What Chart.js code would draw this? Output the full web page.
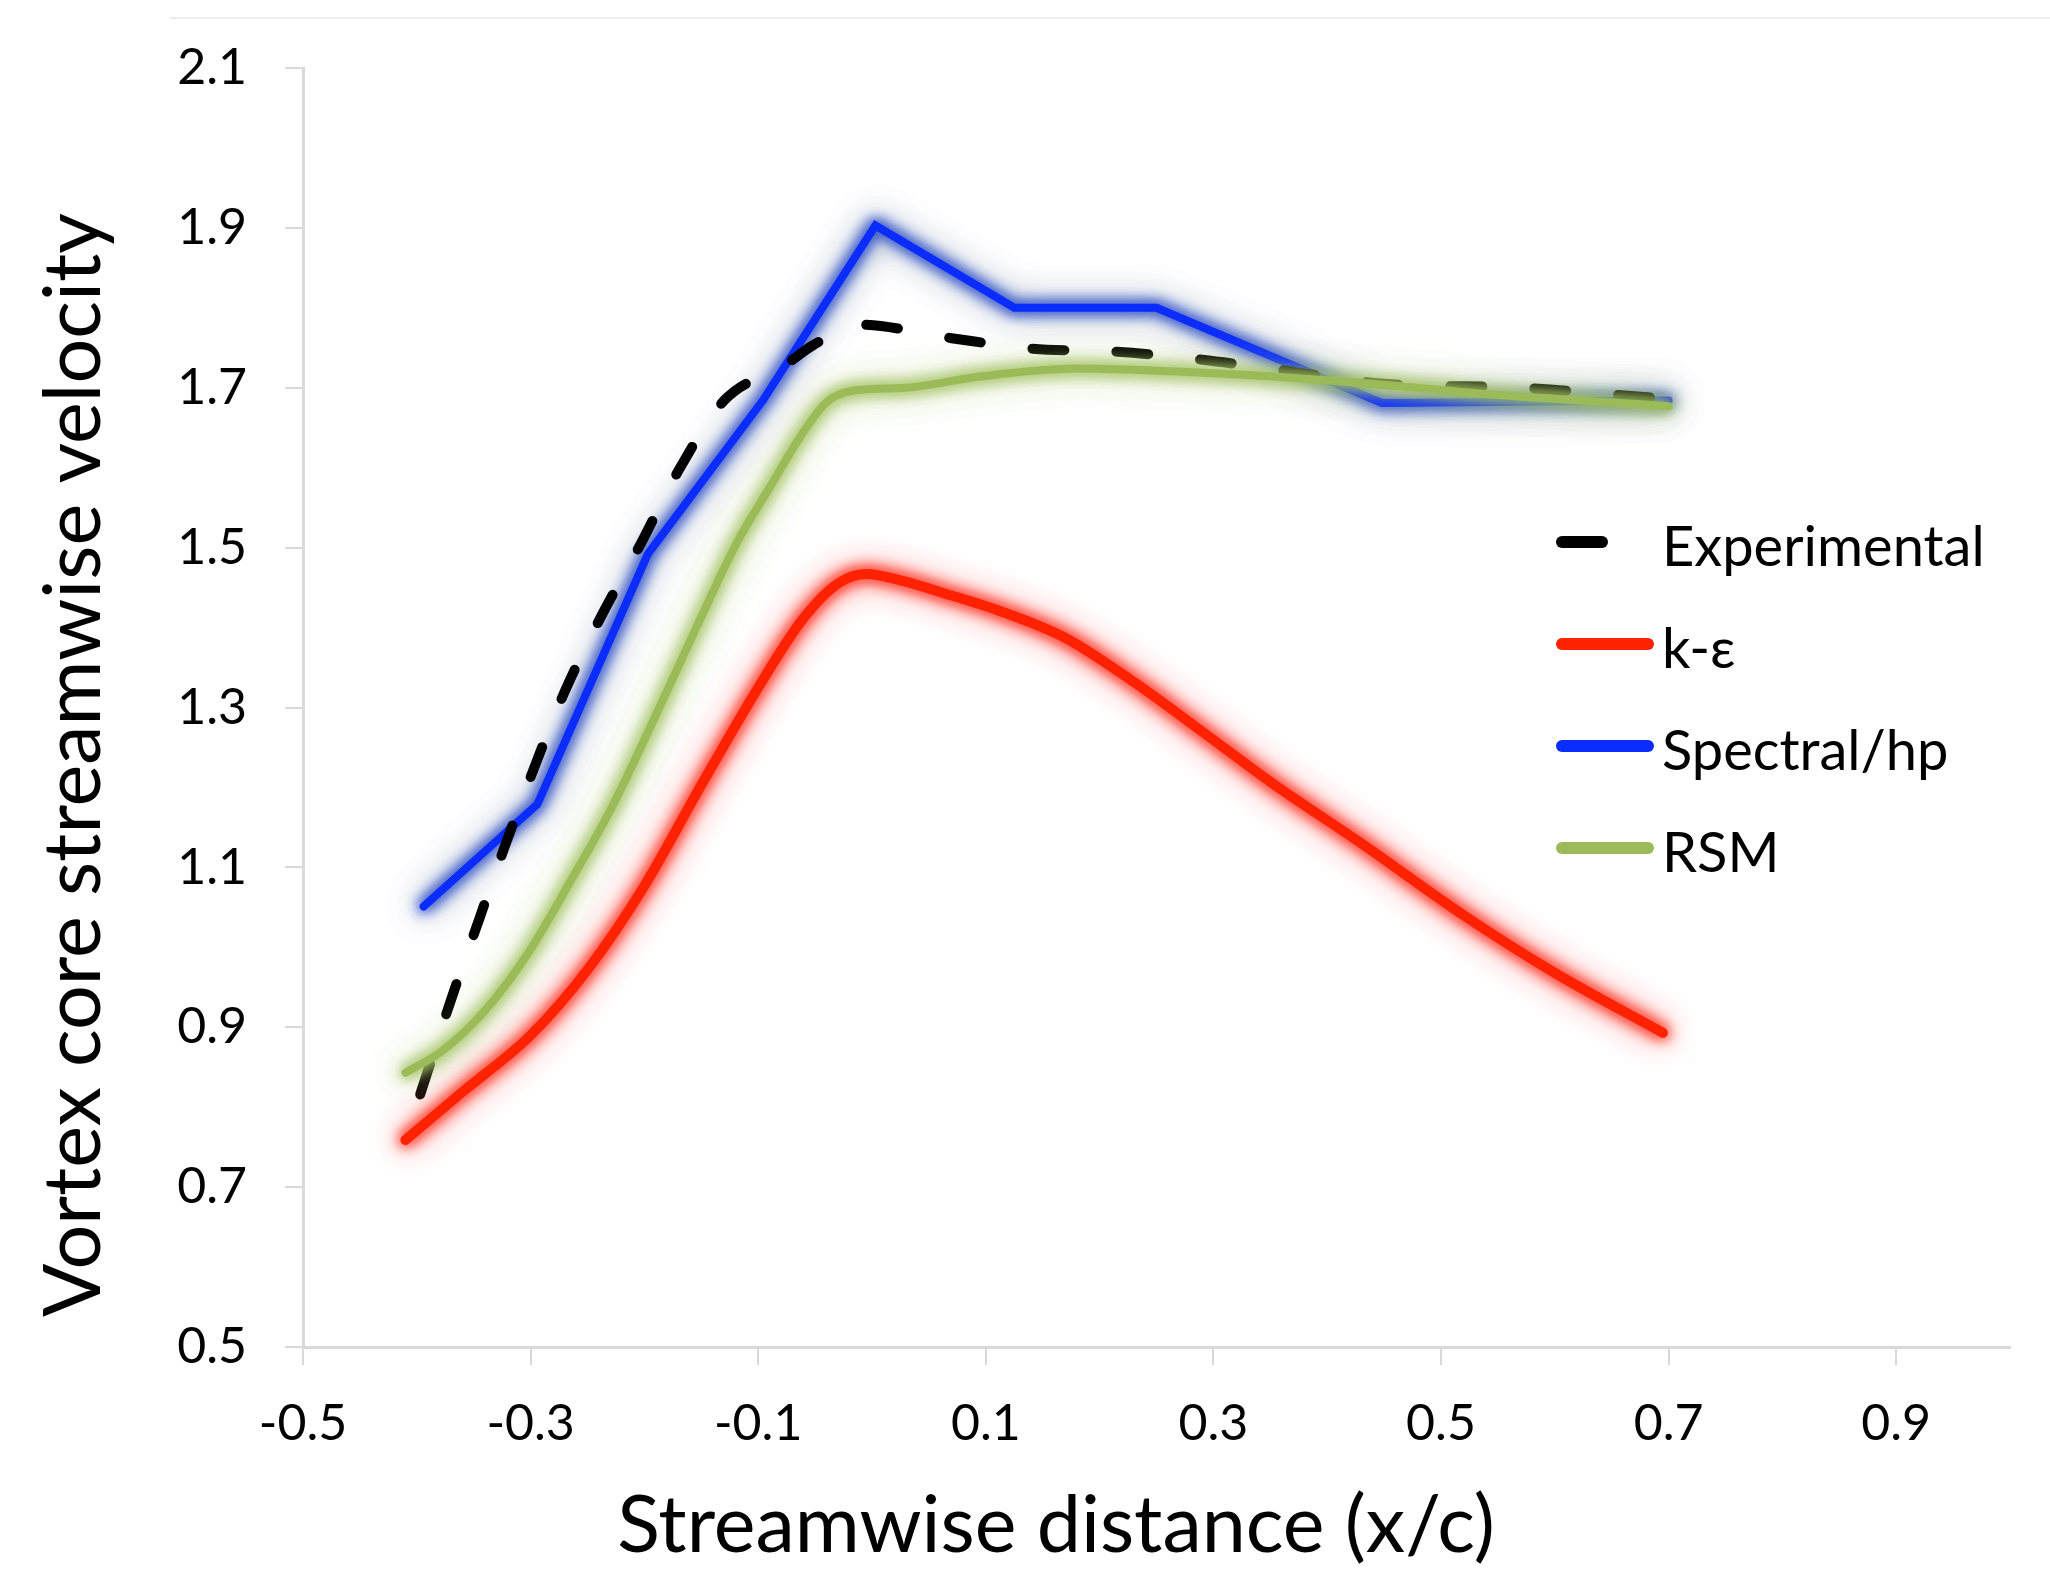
<!DOCTYPE html>
<html>
<head>
<meta charset="utf-8">
<script src="https://cdn.jsdelivr.net/npm/chart.js@4.4.1/dist/chart.umd.min.js"></script>
<style>
  html, body { margin: 0; padding: 0; background: #fff; }
  canvas { display: block; }
</style>
</head>
<body>
<canvas id="chart" width="2050" height="1569"></canvas>
<script>
const xTickValues = [-0.5, -0.3, -0.1, 0.1, 0.3, 0.5, 0.7, 0.9];
const yTickValues = [0.5, 0.7, 0.9, 1.1, 1.3, 1.5, 1.7, 1.9, 2.1];

const seriesNames = ['Experimental', 'k-ε', 'Spectral/hp', 'RSM'];

// Experimental (dashed black)
const expX = [-0.397, -0.37, -0.345, -0.323, -0.297, -0.27, -0.238, -0.205, -0.169, -0.13, -0.076, -0.052, -0.012, 0.07, 0.14, 0.215, 0.29, 0.36, 0.45, 0.57, 0.69];
const expY = [0.816, 0.934, 1.036, 1.125, 1.224, 1.320, 1.414, 1.50, 1.599, 1.684, 1.729, 1.753, 1.779, 1.762, 1.749, 1.745, 1.735, 1.722, 1.705, 1.70, 1.687];

// k-epsilon (red)
const keX = [-0.41, -0.36, -0.30, -0.25, -0.2, -0.15, -0.1, -0.06, -0.03, -0.005, 0.025, 0.07, 0.11, 0.17, 0.23, 0.29, 0.35, 0.43, 0.52, 0.6, 0.695];
const keY = [0.759, 0.819, 0.89, 0.972, 1.077, 1.203, 1.325, 1.412, 1.455, 1.467, 1.459, 1.44, 1.422, 1.387, 1.332, 1.27, 1.207, 1.13, 1.04, 0.968, 0.893];

// Spectral/hp (blue)
const spX = [-0.394, -0.294, -0.197, -0.096, 0.003, 0.125, 0.25, 0.448, 0.70];
const spY = [1.051, 1.179, 1.492, 1.684, 1.903, 1.80, 1.80, 1.681, 1.684];

// RSM (green)
const rsmX = [-0.41, -0.377, -0.34, -0.303, -0.266, -0.229, -0.192, -0.155, -0.118, -0.09, -0.062, -0.04, -0.018, 0.03, 0.095, 0.18, 0.24, 0.33, 0.43, 0.55, 0.70];
const rsmY = [0.843, 0.871, 0.921, 0.991, 1.080, 1.174, 1.284, 1.398, 1.508, 1.575, 1.641, 1.682, 1.696, 1.70, 1.714, 1.724, 1.722, 1.716, 1.706, 1.691, 1.677];

const pts = (xs, ys) => xs.map((x, i) => ({ x: x, y: ys[i] }));

const axisGrey = '#d9d9d9';
const fontName = 'Lato, "Open Sans", sans-serif';

const decor = {
  id: 'decor',
  beforeDraw(chart) {
    const ctx = chart.ctx;
    ctx.save();
    ctx.strokeStyle = '#ececec';
    ctx.lineWidth = 2;
    ctx.beginPath();
    ctx.moveTo(170, 18);
    ctx.lineTo(chart.width, 18);
    ctx.stroke();
    ctx.restore();
  },
  beforeDatasetDraw(chart, args) {
    const ds = chart.data.datasets[args.index];
    const ctx = chart.ctx;
    // soft halo under the coloured lines
    if (ds.glow) {
      ctx.save();
      ctx.shadowColor = ds.glow;
      ctx.shadowBlur = 30;
      ctx.filter = 'blur(7px)';
      ctx.globalAlpha = 0.7;
      args.meta.dataset.draw(ctx, chart.chartArea);
      args.meta.dataset.draw(ctx, chart.chartArea);
      ctx.restore();
    }
    ctx.save();
    if (ds.glow) {
      ctx.shadowColor = ds.glow;
      ctx.shadowBlur = 14;
    }
  },
  afterDatasetDraw(chart) {
    chart.ctx.restore();
  },
  afterDraw(chart) {
    const ctx = chart.ctx;
    ctx.save();
    ctx.fillStyle = '#000';

    // axis titles
    ctx.font = '79px ' + fontName;
    ctx.textAlign = 'center';
    ctx.textBaseline = 'alphabetic';
    ctx.fillText('Streamwise distance (x/c)', 1056, 1552);
    ctx.save();
    ctx.translate(100, 765);
    ctx.rotate(-Math.PI / 2);
    ctx.fillText('Vortex core streamwise velocity', 0, 0);
    ctx.restore();

    // legend
    ctx.font = '56px ' + fontName;
    ctx.textAlign = 'left';
    chart.data.datasets.forEach((ds, i) => {
      const y = 542 + i * 102;
      ctx.strokeStyle = ds.borderColor;
      ctx.lineWidth = 12;
      ctx.lineCap = 'round';
      ctx.setLineDash(ds.borderDash ? [40, 200] : []);
      ctx.beginPath();
      ctx.moveTo(1562, y);
      ctx.lineTo(1648, y);
      ctx.stroke();
      ctx.fillText(ds.label, 1662, y + 24);
    });
    ctx.restore();
  }
};

new Chart(document.getElementById('chart'), {
  type: 'line',
  data: {
    datasets: [
      {
        label: seriesNames[0],
        data: pts(expX, expY),
        borderColor: '#000000',
        borderWidth: 10,
        borderDash: [32, 52],
        borderCapStyle: 'round',
        borderJoinStyle: 'round',
        cubicInterpolationMode: 'monotone',
        order: 2
      },
      {
        label: seriesNames[1],
        data: pts(keX, keY),
        borderColor: '#ff2200',
        glow: 'rgba(255, 90, 90, 0.95)',
        borderWidth: 10,
        borderCapStyle: 'round',
        borderJoinStyle: 'round',
        cubicInterpolationMode: 'monotone',
        order: 1
      },
      {
        label: seriesNames[2],
        data: pts(spX, spY),
        borderColor: '#0a2cff',
        glow: 'rgba(70, 100, 150, 0.95)',
        borderWidth: 8,
        borderCapStyle: 'round',
        borderJoinStyle: 'miter',
        tension: 0,
        order: 3
      },
      {
        label: seriesNames[3],
        data: pts(rsmX, rsmY),
        borderColor: '#9bbb59',
        glow: 'rgba(170, 200, 110, 0.95)',
        borderWidth: 8,
        borderCapStyle: 'round',
        borderJoinStyle: 'round',
        cubicInterpolationMode: 'monotone',
        order: 0
      }
    ]
  },
  options: {
    responsive: false,
    animation: false,
    devicePixelRatio: 1,
    events: [],
    elements: { point: { radius: 0 } },
    layout: { padding: { top: 57, right: 40, left: 0, bottom: 0 } },
    plugins: {
      legend: { display: false },
      tooltip: { enabled: false }
    },
    scales: {
      x: {
        type: 'linear',
        min: -0.5,
        max: 1.0,
        afterBuildTicks: (s) => { s.ticks = xTickValues.map(v => ({ value: v })); },
        afterFit: (s) => { s.height = 222; },
        grid: { drawOnChartArea: false, drawTicks: true, tickLength: 18, color: axisGrey, lineWidth: 2 },
        border: { display: true, color: axisGrey, width: 3 },
        ticks: {
          padding: 29,
          maxRotation: 0,
          autoSkip: false,
          color: '#000',
          font: { family: fontName, size: 50 },
          callback: (v) => v.toFixed(1)
        }
      },
      y: {
        min: 0.5,
        max: 2.1,
        afterBuildTicks: (s) => { s.ticks = yTickValues.map(v => ({ value: v })); },
        afterFit: (s) => { s.width = 303; },
        grid: { drawOnChartArea: false, drawTicks: true, tickLength: 18, color: axisGrey, lineWidth: 2 },
        border: { display: true, color: axisGrey, width: 3 },
        ticks: {
          padding: 38,
          autoSkip: false,
          color: '#000',
          font: { family: fontName, size: 50 },
          callback: (v) => v.toFixed(1)
        }
      }
    }
  },
  plugins: [decor]
});
</script>
</body>
</html>
